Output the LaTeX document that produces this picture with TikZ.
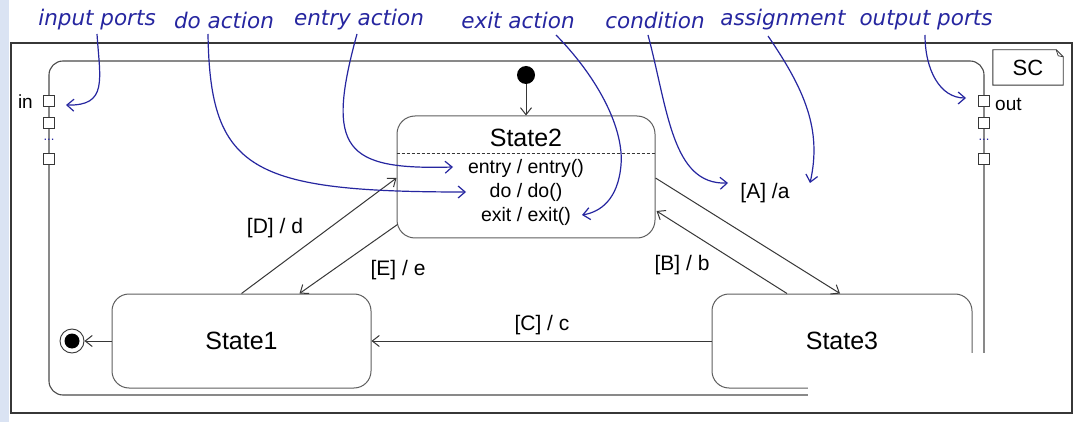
\documentclass[tikz,border=0pt]{standalone}
\usepackage{fontspec}
\setmainfont{Liberation Sans}
\newfontfamily\hand{DejaVu Sans Oblique}
\usetikzlibrary{arrows.meta,calc}
\definecolor{annot}{RGB}{38,38,160}
\definecolor{strip}{RGB}{218,227,243}
\definecolor{lin}{RGB}{55,55,55}
\tikzset{
  statebox/.style={draw=lin!80, line width=1pt, rounded corners=17pt, inner sep=0pt, fill=white},
  tr/.style={draw=lin, line width=1pt, -{Straight Barb[length=7pt,width=11pt]}},
  ann/.style={draw=annot, line width=1.2pt, -{Straight Barb[length=7pt,width=12pt]}},
  anntext/.style={text=annot, font=\hand\fontsize{21.5}{25}\selectfont, inner sep=0pt},
  lbl/.style={font=\fontsize{21}{25}\selectfont, inner sep=0pt},
  act/.style={font=\fontsize{19.5}{23}\selectfont, inner sep=0pt},
  portbox/.style={draw=lin, line width=0.9pt, fill=white, minimum size=10.5pt, inner sep=0pt},
  dots/.style={text=annot, font=\fontsize{13}{13}\selectfont, inner sep=0pt}
}
\begin{document}
\begin{tikzpicture}[x=1pt,y=-1pt]
\useasboundingbox (0,0) rectangle (1087,422);
\fill[white] (0,0) rectangle (1087,422);
\fill[strip] (0,0) rectangle (9,422);
% outer frame
\draw[lin, line width=1.3pt] (11,43) rectangle (1072,413);
% inner frame
\draw[lin!90, line width=1.1pt, rounded corners=14pt] (49,61) rectangle (984,395);
% SC note
\node[lbl, font=\fontsize{22}{26}\selectfont, minimum width=70pt, minimum height=35pt] (sc) at (1028,67.5) {SC};
\draw[lin, line width=0.9pt] (sc.north west) -- ($(sc.north east)+(-7,0)$) -- ($(sc.north east)+(0,7)$) -- (sc.south east) -- (sc.south west) -- cycle;
\draw[lin, line width=0.7pt] ($(sc.north east)+(-7,0)$) -- ($(sc.north east)+(-5,6)$) -- ($(sc.north east)+(0,7)$);
% ports
\node[portbox] (p1) at (49,101) {};
\node[portbox] (p2) at (49,123) {};
\node[portbox] (p3) at (49,159) {};
\node[portbox] (q1) at (984,101) {};
\node[portbox] (q2) at (984,123) {};
\node[portbox] (q3) at (984,159) {};
\node[dots] (d1) at (49,140) {...};
\node[dots] (d2) at (984,140) {...};
\node[lbl, font=\fontsize{19}{22}\selectfont, anchor=east] (inl) at (33,102) {in};
\node[lbl, font=\fontsize{19}{22}\selectfont, anchor=west] (outl) at (995,104) {out};
% states
\node[statebox, minimum width=258pt, minimum height=122pt, rounded corners=18pt] (s2) at (526,177) {};
\node[lbl, font=\fontsize{25}{30}\selectfont] (s2t) at (526,138) {State2};
\draw[lin, line width=0.9pt, dashed, dash pattern=on 3pt off 2pt] ($(s2.north west)+(0,38)$) -- ($(s2.north east)+(0,38)$);
\node[act] (en) at (526,168) {entry / entry()};
\node[act] (dd) at (526,192) {do / do()};
\node[act] (ex) at (526,216) {exit / exit()};
\node[statebox, minimum width=259pt, minimum height=94pt] (s1) at (241.5,341) {};
\node[lbl, font=\fontsize{25}{30}\selectfont] at (s1) {State1};
\node[statebox, minimum width=260pt, minimum height=94pt] (s3) at (842,341) {};
\node[lbl, font=\fontsize{25}{30}\selectfont] at (s3) {State3};
% initial / final
\node[circle, fill=black, minimum size=18pt, inner sep=0pt] (init) at (526,75) {};
\node[circle, draw=lin, line width=0.9pt, fill=white, minimum size=24pt, inner sep=0pt] (fin) at (72,341) {};
\fill[black] (fin) circle (7.5pt);
% transitions
\draw[tr] (init) -- (init |- s2.north);
\draw[tr] (s1.west) -- (fin);
\draw[tr] (s3.west) -- (s1.east);
\draw[tr] (s1.north) -- ($(s2.west)+(0,1)$);
\draw[tr] ($(s2.south west)+(1,-14)$) -- ($(s1.north west)+(188,0)$);
\draw[tr] ($(s2.east)+(0,1)$) -- ($(s3.north)+(-2,0)$);
\draw[tr] ($(s3.north)+(-55,0)$) -- ($(s2.east)+(1,34)$);
\node[lbl] (la) at (765,193) {[A] /a};
\node[lbl] (lb) at (682,265) {[B] / b};
\node[lbl] (lc) at (542,325) {[C] / c};
\node[lbl] (ld) at (275,228) {[D] / d};
\node[lbl] (le) at (398,270) {[E] / e};
% watermark patch
\fill[white] (808,353) rectangle (1065,407);
% annotations
\node[anntext] (a1) at (97,20) {input ports};
\node[anntext] (a2) at (224,20) {do action};
\node[anntext] (a3) at (359,20) {entry action};
\node[anntext] (a4) at (518,20) {exit action};
\node[anntext] (a5) at (655,20) {condition};
\node[anntext] (a6) at (783,20) {assignment};
\node[anntext] (a7) at (926,20) {output ports};
\coordinate (t1) at (66,105);
\coordinate (t2) at (466,192);
\coordinate (t3) at (453,167);
\coordinate (t4) at (582,215);
\coordinate (t5) at (728,183);
\coordinate (t6) at (810,183);
\coordinate (t7) at (966,98);
\draw[ann] (97,34) .. controls (100,80) and (108,106) .. (t1);
\draw[ann] (208,34) .. controls (210,170) and (250,192) .. (t2);
\draw[ann] (357,34) .. controls (325,150) and (345,170) .. (t3);
\draw[ann] (556,35) .. controls (600,80) and (624,130) .. (621,165) .. controls (618,200) and (600,212) .. (t4);
\draw[ann] (648,35) .. controls (668,110) and (672,185) .. (t5);
\draw[ann] (768,36) .. controls (805,90) and (822,130) .. (t6);
\draw[ann] (925,35) .. controls (925,70) and (940,98) .. (t7);
\end{tikzpicture}
\end{document}
